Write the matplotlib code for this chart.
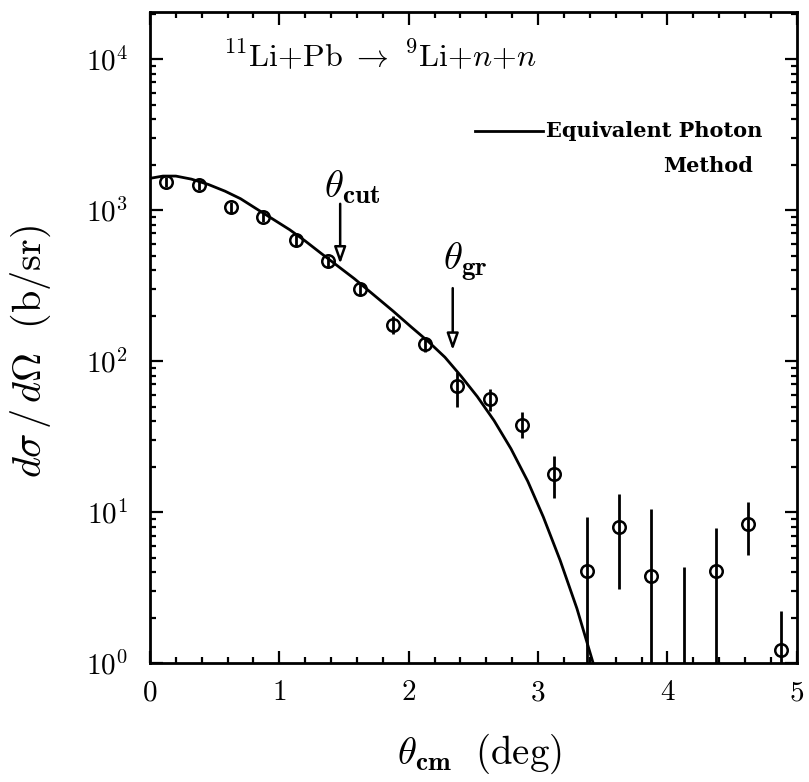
import numpy as np
import matplotlib.pyplot as plt
from matplotlib.ticker import MultipleLocator, LogLocator, NullFormatter

plt.rcParams['mathtext.fontset'] = 'cm'
plt.rcParams['font.family'] = ['DejaVu Serif']

theta = [0.125, 0.375, 0.625, 0.875, 1.125, 1.375, 1.625, 1.875, 2.125, 2.375,
         2.625, 2.875, 3.125, 3.375, 3.625, 3.875, 4.125, 4.375, 4.625, 4.875]
xsec = [1540, 1460, 1045, 900, 630, 460, 298, 173, 129, 68,
        56, 38, 18, 4.1, 8.0, 3.8, 0.5, 4.07, 8.4, 1.23]
xsec_lo = [1420, 1350, 960, 830, 580, 420, 272, 150, 114, 50,
           47, 31, 12.4, 0.1, 3.1, 0.1, 0.1, 0.1, 5.2, 0.1]
xsec_hi = [1660, 1580, 1130, 975, 680, 500, 325, 200, 145, 85,
           65, 46, 23.7, 9.3, 13.1, 10.5, 4.3, 7.9, 11.6, 2.2]

# equivalent photon method curve
epm_theta = [0.0, 0.1, 0.2, 0.32, 0.45, 0.58, 0.7, 0.82, 0.95, 1.08,
             1.2, 1.32, 1.45, 1.58, 1.7, 1.88, 2.02, 2.15, 2.28, 2.405,
             2.53, 2.66, 2.79, 2.92, 3.04, 3.17, 3.30, 3.43]
epm_xsec = [1622, 1679, 1679, 1603, 1479, 1334, 1189, 1023, 871, 741,
            624, 519, 427, 351, 288, 214, 168, 135, 106, 79.4,
            58.2, 40.3, 26.3, 16.0, 9.3, 4.8, 2.3, 0.97]

# cut / grazing angles and arrow spans
theta_cut = 1.47
theta_gr = 2.34
cut_span = [1100, 440]
gr_span = [304, 118]

fig = plt.figure(figsize=(8.09, 7.82), dpi=100)
ax = fig.add_axes([0.1854, 0.152, 0.7996, 0.8327])

ax.plot(epm_theta, epm_xsec, color='black', lw=2.0)

y = np.array(xsec)
yerr = [y - np.array(xsec_lo), np.array(xsec_hi) - y]
ax.errorbar(theta, xsec, yerr=yerr, fmt='o', mfc='none', mec='black', mew=1.8,
            ms=9, ecolor='black', elinewidth=2.0, capsize=0)

ax.set_yscale('log')
ax.set_xlim(0, 5)
ax.set_ylim(1, 2.05e4)

# arrows
for xa, span in [(theta_cut, cut_span), (theta_gr, gr_span)]:
    ax.annotate('', xy=(xa, span[1]), xytext=(xa, span[0]),
                arrowprops=dict(arrowstyle='-|>,head_length=1.0,head_width=0.35',
                                fc='white', ec='black', lw=1.8, shrinkA=0, shrinkB=0))

ax.text(theta_cut + 0.09, 1060, r'$\theta_{\mathbf{cut}}$', fontsize=28,
        ha='center', va='bottom')
ax.text(theta_gr + 0.10, 329, r'$\theta_{\mathbf{gr}}$', fontsize=28,
        ha='center', va='bottom')

ax.text(0.355, 0.932, r'$^{11}\mathrm{Li{+}Pb}\ \rightarrow\ ^{9}\mathrm{Li}{+}n{+}n$',
        transform=ax.transAxes, fontsize=23, ha='center', va='center')

# legend drawn by hand
ax.plot([0.502, 0.607], [0.817, 0.817], transform=ax.transAxes, color='black', lw=2.0)
ax.text(0.612, 0.817, 'Equivalent Photon', transform=ax.transAxes, fontsize=15,
        fontweight='bold', ha='left', va='center')
ax.text(0.794, 0.764, 'Method', transform=ax.transAxes, fontsize=15,
        fontweight='bold', ha='left', va='center')

# ticks
ax.xaxis.set_minor_locator(MultipleLocator(0.2))
ax.yaxis.set_minor_locator(LogLocator(base=10, subs=np.arange(2, 10), numticks=20))
ax.yaxis.set_minor_formatter(NullFormatter())
ax.set_xticks([0, 1, 2, 3, 4, 5])
ax.set_xticklabels([r'$\mathbf{%d}$' % v for v in range(6)])
ax.set_yticks([1, 10, 100, 1000, 10000])
ax.set_yticklabels([r'$\mathbf{10^{%d}}$' % v for v in range(5)])
ax.tick_params(which='both', direction='in', top=True, right=True, width=1.6)
ax.tick_params(which='major', length=9, labelsize=21)
ax.tick_params(axis='x', which='major', pad=11)
ax.tick_params(axis='y', which='major', pad=16)
ax.tick_params(which='minor', length=4.5)
for s in ax.spines.values():
    s.set_linewidth(2.0)

ax.set_xlabel(r'$\theta_{\mathbf{cm}}\ \ \mathrm{(deg)}$', fontsize=28)
ax.set_ylabel(r'$d\sigma\,/\,d\Omega\ \ \mathrm{(b/sr)}$', fontsize=29)
ax.xaxis.set_label_coords(0.51, -0.106)
ax.yaxis.set_label_coords(-0.150, 0.478)

fig.savefig('out.png', dpi=100)
